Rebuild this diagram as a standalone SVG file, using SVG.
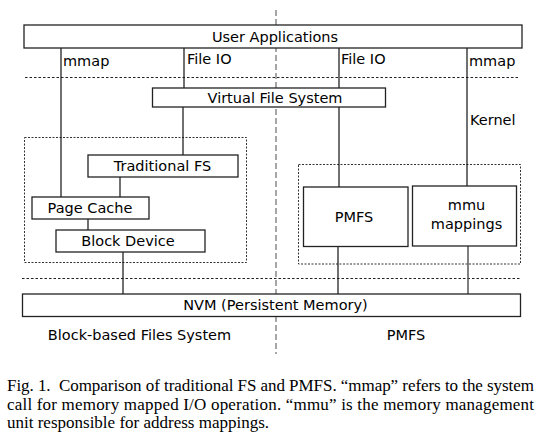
<svg xmlns="http://www.w3.org/2000/svg" width="553" height="440" viewBox="0 0 553 440">
<style>
.box{fill:#fff;stroke:#222;stroke-width:1.3}
.grp{fill:none;stroke:#333;stroke-width:1;stroke-dasharray:2,1.5}
.sep{fill:none;stroke:#222;stroke-width:1;stroke-dasharray:2.5,2}
.mid{fill:none;stroke:#777;stroke-width:1.3;stroke-dasharray:6,3}
.ln{fill:none;stroke:#111;stroke-width:1.2}
.t{font-family:"DejaVu Sans",sans-serif;font-size:14.5px;fill:#000}
.c{text-anchor:middle}
.cap{font-family:"Liberation Serif","Times New Roman",serif;font-size:17px;fill:#000}
</style>
<rect width="553" height="440" fill="#fff"/>
<line class="mid" x1="276" y1="10" x2="276" y2="354"/>
<line class="sep" x1="25" y1="77.5" x2="520" y2="77.5"/>
<line class="sep" x1="22" y1="278.5" x2="520" y2="278.5"/>
<rect class="grp" x="24.5" y="137.5" width="222" height="125"/>
<rect class="grp" x="298.5" y="164.5" width="222" height="99.5"/>
<g id="connectors">
<line class="ln" x1="61" y1="48" x2="61" y2="197"/>
<line class="ln" x1="184" y1="48" x2="184" y2="88"/>
<line class="ln" x1="183" y1="107" x2="183" y2="155"/>
<line class="ln" x1="339" y1="48" x2="339" y2="187"/>
<line class="ln" x1="467" y1="48" x2="467" y2="186"/>
<line class="ln" x1="120" y1="177" x2="120" y2="197"/>
<line class="ln" x1="88" y1="219" x2="88" y2="230"/>
<line class="ln" x1="123" y1="252" x2="123" y2="294"/>
<line class="ln" x1="338" y1="246" x2="338" y2="294"/>
<line class="ln" x1="468" y1="246" x2="468" y2="294" style="stroke:#555;stroke-width:1.5"/>
</g>
<text class="t" x="63" y="65.5">mmap</text>
<text class="t" x="187" y="64">File IO</text>
<text class="t" x="341" y="64">File IO</text>
<text class="t" x="469" y="65.5">mmap</text>
<text class="t" x="470" y="125">Kernel</text>
<g id="user-applications">
<rect class="box" x="24" y="25" width="498" height="23"/>
<text class="t c" x="275" y="41.5">User Applications</text>
</g>
<g id="vfs">
<rect class="box" x="152.5" y="88" width="233" height="19"/>
<text class="t c" x="275" y="102.5">Virtual File System</text>
</g>
<g id="traditional-fs">
<rect class="box" x="88" y="155" width="150" height="22"/>
<text class="t c" x="162.5" y="171">Traditional FS</text>
</g>
<g id="page-cache">
<rect class="box" x="32" y="197" width="117" height="22"/>
<text class="t c" x="90" y="213">Page Cache</text>
</g>
<g id="block-device">
<rect class="box" x="56" y="230" width="149" height="22"/>
<text class="t c" x="128" y="246">Block Device</text>
</g>
<g id="pmfs">
<rect class="box" x="303.5" y="187" width="104.5" height="59.5"/>
<text class="t c" x="354" y="222">PMFS</text>
</g>
<g id="mmu-mappings">
<rect class="box" x="412.5" y="186" width="104" height="60"/>
<text class="t c" x="466.5" y="210">mmu</text>
<text class="t c" x="466.5" y="228.5">mappings</text>
</g>
<g id="nvm">
<rect class="box" x="22.5" y="294" width="498" height="22.5"/>
<text class="t c" x="275.5" y="310">NVM (Persistent Memory)</text>
</g>
<text class="t c" x="139.5" y="340">Block-based Files System</text>
<text class="t c" x="406" y="340">PMFS</text>
<text class="cap" x="7" y="391" textLength="527" lengthAdjust="spacing" xml:space="preserve">Fig. 1.  Comparison of traditional FS and PMFS. “mmap” refers to the system</text>
<text class="cap" x="7" y="409.5" textLength="527" lengthAdjust="spacing">call for memory mapped I/O operation. “mmu” is the memory management</text>
<text class="cap" x="7" y="428">unit responsible for address mappings.</text>
</svg>
